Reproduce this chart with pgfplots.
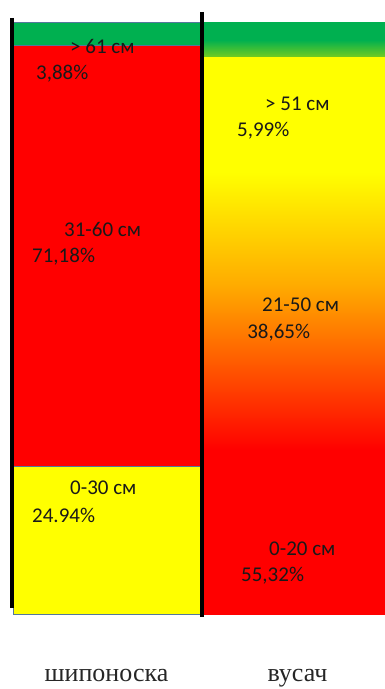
\documentclass[border=0pt]{standalone}
\usepackage{fontspec}
\setmainfont{Carlito}
\newfontfamily\labelserif{Liberation Serif}
\usepackage{pgfplots}
\pgfplotsset{compat=1.18}

\definecolor{cgreen}{RGB}{0,176,80}
\definecolor{cred}{RGB}{255,0,0}
\definecolor{cyellow}{RGB}{255,255,0}
\definecolor{corange}{RGB}{255,170,0}
\definecolor{clime}{RGB}{120,205,30}
\definecolor{cedge}{RGB}{84,120,156}

\pgfplotsset{
  lengthbar/.style={
    scale only axis, width=385pt, height=592pt,
    xmin=-0.5576, xmax=1.4581, ymin=0, ymax=100,
    ybar stacked, bar width=0.979,
    axis line style={draw=none},
    ytick=\empty,
    major tick length=0pt,
    xtick style={draw=none},
    clip mode=individual,
  },
}
\tikzset{
  seglabel/.style={anchor=west, inner sep=0pt, text=black!90,
    font=\fontsize{21}{25}\selectfont},
}

\begin{document}
\begin{tikzpicture}
% шипоноска: length classes, bottom to top
\begin{axis}[lengthbar, xtick={0,1}, xticklabels={шипоноска, вусач},
  xticklabel style={font=\labelserif\fontsize{26}{30}\selectfont,
    anchor=base, yshift=-67pt, text=black!85},
  every axis plot/.append style={draw=cedge, line width=0.8pt}]
  \addplot[fill=cyellow] coordinates {(0,24.94)};
  \addplot[fill=cred]    coordinates {(0,71.18)};
  \addplot[fill=cgreen]  coordinates {(0,3.88)};
  \coordinate (bbsw) at (rel axis cs:0,0);
  \coordinate (bbne) at (rel axis cs:1,1);
\end{axis}
% вусач: same classes with blended colour transitions
\begin{axis}[lengthbar, xtick=\empty,
  every axis plot/.append style={draw=none}]
  \addplot[bottom color=cred, top color=corange, middle color=cred]
    coordinates {(1,55.32)};
  \addplot[bottom color=corange, top color=cyellow, middle color=cyellow]
    coordinates {(1,38.65)};
  \addplot[bottom color=clime, top color=cgreen, middle color=cgreen]
    coordinates {(1,5.99)};
\end{axis}
% rules and class labels on top of both bars
\begin{axis}[lengthbar, xtick=\empty]
  \draw[line width=4pt, black] (axis cs:-0.4963,100.68) -- (axis cs:-0.4963,1.01);
  \draw[line width=4pt, black] (axis cs:0.4974,101.69) -- (axis cs:0.4974,-0.51);

  \node[seglabel] at (axis cs:-0.1911,95.8) {> 61 см};
  \node[seglabel] at (axis cs:-0.3691,91.2) {3,88\%};
  \node[seglabel] at (axis cs:-0.2225,64.9) {31-60 см};
  \node[seglabel] at (axis cs:-0.3901,60.3) {71,18\%};
  \node[seglabel] at (axis cs:-0.1911,21.3) {0-30 см};
  \node[seglabel] at (axis cs:-0.3901,16.6) {24.94\%};

  \node[seglabel] at (axis cs:0.8298,86.1) {> 51 см};
  \node[seglabel] at (axis cs:0.6832,81.6) {5,99\%};
  \node[seglabel] at (axis cs:0.8141,52.2) {21-50 см};
  \node[seglabel] at (axis cs:0.7361,47.6) {38,65\%};
  \node[seglabel] at (axis cs:0.8508,11.0) {0-20 см};
  \node[seglabel] at (axis cs:0.7042,6.4) {55,32\%};
\end{axis}
\pgfresetboundingbox
\path ([yshift=-75pt]bbsw) rectangle ([yshift=22pt]bbne);
\end{tikzpicture}
\end{document}
